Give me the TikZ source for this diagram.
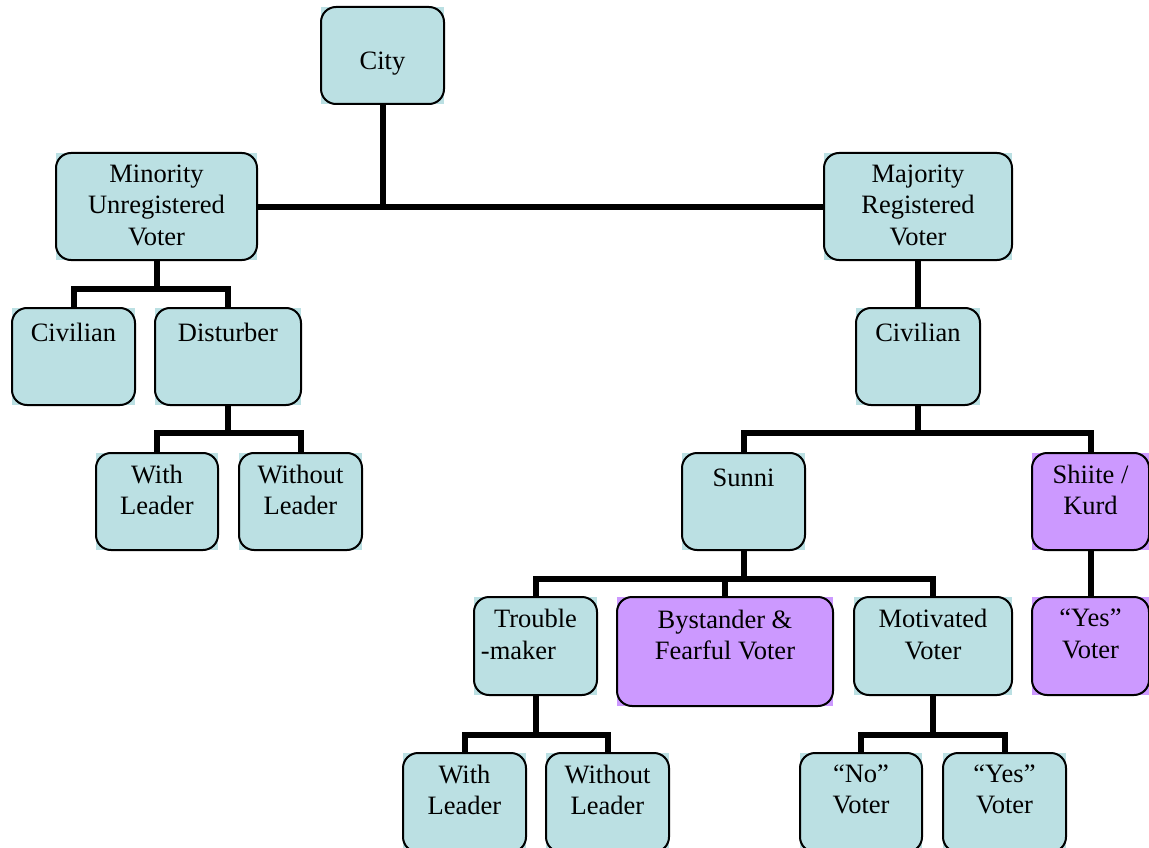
\documentclass[tikz,border=0pt]{standalone}
\usepackage{fontspec}
\setmainfont{Liberation Serif}
\usetikzlibrary{fit}
\definecolor{tealfill}{HTML}{BBE0E3}
\definecolor{violetfill}{HTML}{CC99FF}
\tikzset{
  boxfill/.style={fill=#1, draw=none, inner sep=0pt, outer sep=0pt},
  boxline/.style={draw=black, line width=2pt, rounded corners=15pt},
  % the strut fixes the first baseline 22pt below the node's top
  lbl/.style={font=\fontsize{26.5}{31.5}\selectfont, align=center, inner sep=0pt,
    anchor=north, execute at begin node=\strut},
  conn/.style={draw=black, line width=6pt},
}
% filled box from two corners, outlined with rounded corners
\newcommand{\orgbox}[6]{%
  \node[boxfill=#6, fit={(#2,#3) (#4,#5)}] (#1) {};
  \draw[boxline] (#1.north west) rectangle (#1.south east);
}
\begin{document}
\begin{tikzpicture}[x=1pt, y=-1pt]
\useasboundingbox (0,0) rectangle (1149,848);

% boxes
\orgbox{city}{321}{7}{444}{104}{tealfill}
\orgbox{minority}{56}{153}{257}{260}{tealfill}
\orgbox{majority}{824}{153}{1012}{260}{tealfill}
\orgbox{civL}{12}{308}{135}{405}{tealfill}
\orgbox{disturber}{155}{308}{301}{405}{tealfill}
\orgbox{civR}{856}{308}{980}{405}{tealfill}
\orgbox{withL}{96}{453}{218}{550}{tealfill}
\orgbox{withoutL}{239}{453}{362}{550}{tealfill}
\orgbox{sunni}{682}{453}{805}{550}{tealfill}
\orgbox{shiite}{1032}{453}{1149}{550}{violetfill}
\orgbox{trouble}{474}{597}{597}{695}{tealfill}
\orgbox{bystander}{617}{597}{833}{706}{violetfill}
\orgbox{motivated}{854}{597}{1012}{695}{tealfill}
\orgbox{yesR}{1032}{597}{1149}{695}{violetfill}
\orgbox{withB}{403}{753}{526}{852}{tealfill}
\orgbox{withoutB}{546}{753}{669}{852}{tealfill}
\orgbox{noB}{800}{753}{922}{852}{tealfill}
\orgbox{yesB}{943}{753}{1066}{852}{tealfill}

% labels
\node[lbl] (city-t) at ([yshift=-40pt]city.north) {City};
\node[lbl] (minority-t) at ([yshift=-11.5pt]minority.north) {Minority\\Unregistered\\Voter};
\node[lbl] (majority-t) at ([yshift=-11.5pt]majority.north) {Majority\\Registered\\Voter};
\node[lbl] (civL-t) at ([yshift=-11.5pt]civL.north) {Civilian};
\node[lbl] (disturber-t) at ([yshift=-11.5pt]disturber.north) {Disturber};
\node[lbl] (civR-t) at ([yshift=-11.5pt]civR.north) {Civilian};
\node[lbl] (withL-t) at ([yshift=-11.5pt]withL.north) {With\\Leader};
\node[lbl] (withoutL-t) at ([yshift=-11.5pt]withoutL.north) {Without\\Leader};
\node[lbl] (sunni-t) at ([yshift=-11.5pt]sunni.north) {Sunni};
\node[lbl] (shiite-t) at ([yshift=-11.5pt]shiite.north) {Shiite /\\Kurd};
\node[lbl] (trouble-t) at ([yshift=-12pt]trouble.north) {Trouble\\-maker\hspace*{34pt}};
\node[lbl] (bystander-t) at ([yshift=-12.5pt]bystander.north) {Bystander \&\\Fearful Voter};
\node[lbl] (motivated-t) at ([yshift=-12pt]motivated.north) {Motivated\\Voter};
\node[lbl] (yesR-t) at ([yshift=-12pt]yesR.north) {“Yes”\\Voter};
\node[lbl] (withB-t) at ([yshift=-11.5pt]withB.north) {With\\Leader};
\node[lbl] (withoutB-t) at ([yshift=-11.5pt]withoutB.north) {Without\\Leader};
\node[lbl] (noB-t) at ([yshift=-11.5pt]noB.north) {“No”\\Voter};
\node[lbl] (yesB-t) at ([yshift=-11.5pt]yesB.north) {“Yes”\\Voter};

% connectors
\draw[conn] (minority.east) -- (majority.west);
\draw[conn] (city.south) -- (city.south |- minority.east);

\draw[conn] (minority.south) -- ++(0,29) -| (civL.north);
\draw[conn] (minority.south) -- ++(0,29) -| (disturber.north);

\draw[conn] (disturber.south) -- ++(0,28) -| (withL.north);
\draw[conn] (disturber.south) -- ++(0,28) -| (withoutL.north);

\draw[conn] (majority.south) -- (civR.north);

\draw[conn] (civR.south) -- ++(0,28) -| (sunni.north);
\draw[conn] (civR.south) -- ++(0,28) -| (shiite.north);

\draw[conn] (sunni.south) -- ++(0,29) -| (trouble.north);
\draw[conn] (sunni.south) -- ++(0,29) -| (bystander.north);
\draw[conn] (sunni.south) -- ++(0,29) -| (motivated.north);

\draw[conn] (shiite.south) -- (yesR.north);

\draw[conn] (trouble.south) -- ++(0,40) -| (withB.north);
\draw[conn] (trouble.south) -- ++(0,40) -| (withoutB.north);

\draw[conn] (motivated.south) -- ++(0,40) -| (noB.north);
\draw[conn] (motivated.south) -- ++(0,40) -| (yesB.north);
\end{tikzpicture}
\end{document}
